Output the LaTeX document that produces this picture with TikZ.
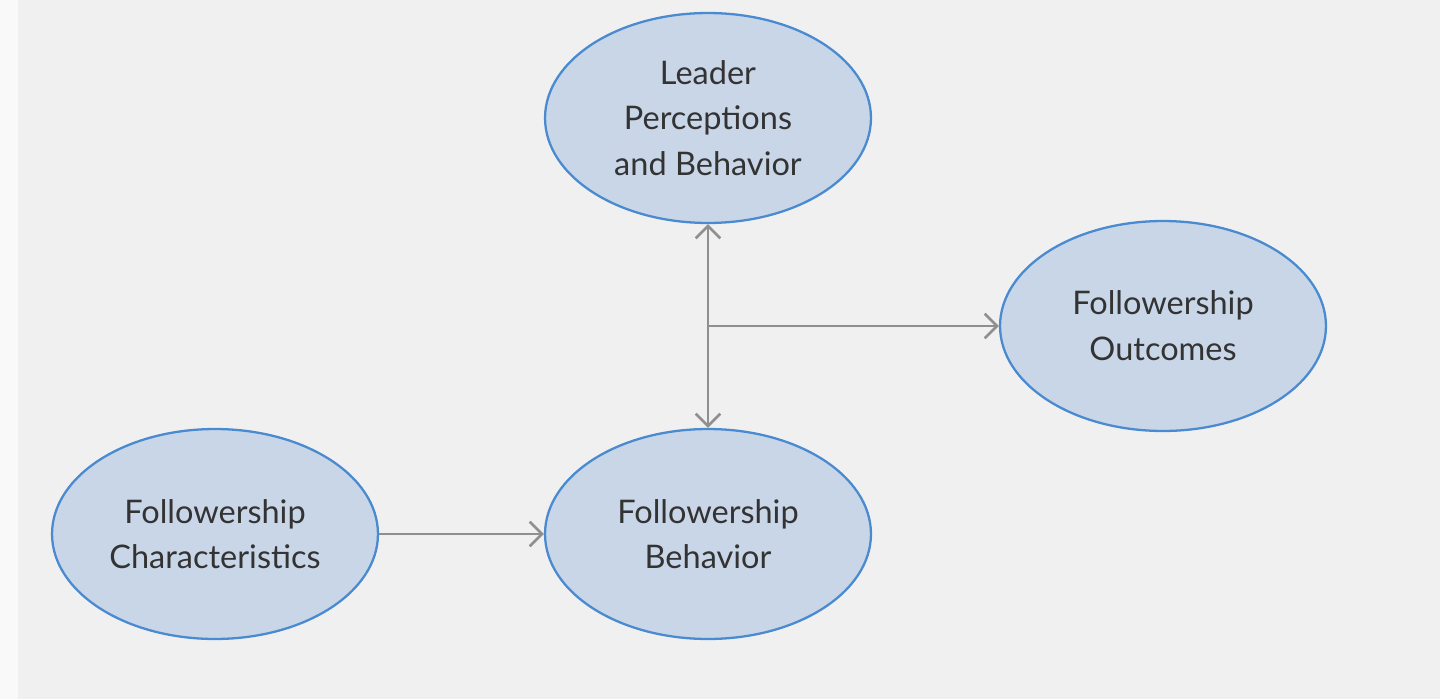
\documentclass[tikz,border=0pt]{standalone}
\usepackage{fontspec}
\setmainfont{Lato}
\usetikzlibrary{shapes.geometric,arrows.meta,positioning}
\definecolor{bgray}{HTML}{F0F0F0}
\definecolor{efill}{HTML}{C9D6E8}
\definecolor{edraw}{HTML}{4A8AD0}
\definecolor{agray}{HTML}{8F8F8F}
\begin{document}
\begin{tikzpicture}[x=0.02cm,y=-0.02cm,
    oval/.style={ellipse, draw=edraw, line width=1.3pt, fill=efill, minimum width=6.52cm, minimum height=4.2cm, inner sep=0pt, align=center, font=\fontsize{18.5}{26}\selectfont, text=black!80},
    link/.style={draw=agray, line width=1.5pt, -{Straight Barb[length=7pt,width=14pt]}}
]
    \fill[bgray] (0,0) rectangle (1440,699);
    \fill[white!60!bgray] (0,0) rectangle (18,699);

    \node[oval] (leader) at (708,118) {Leader\\Perceptions\\and Behavior};
    \node[oval] (outcomes) at (1163,326) {Followership\\Outcomes};
    \node[oval] (behavior) at (708,534) {Followership\\Behavior};
    \node[oval] (traits) at (215,534) {Followership\\Characteristics};

    \coordinate (branch) at (708,326);
    \draw[link] (traits) -- (behavior);
    \draw[link, {Straight Barb[length=7pt,width=14pt]}-{Straight Barb[length=7pt,width=14pt]}] (leader) -- (behavior);
    \draw[link] (branch) -- (outcomes);
\end{tikzpicture}
\end{document}
